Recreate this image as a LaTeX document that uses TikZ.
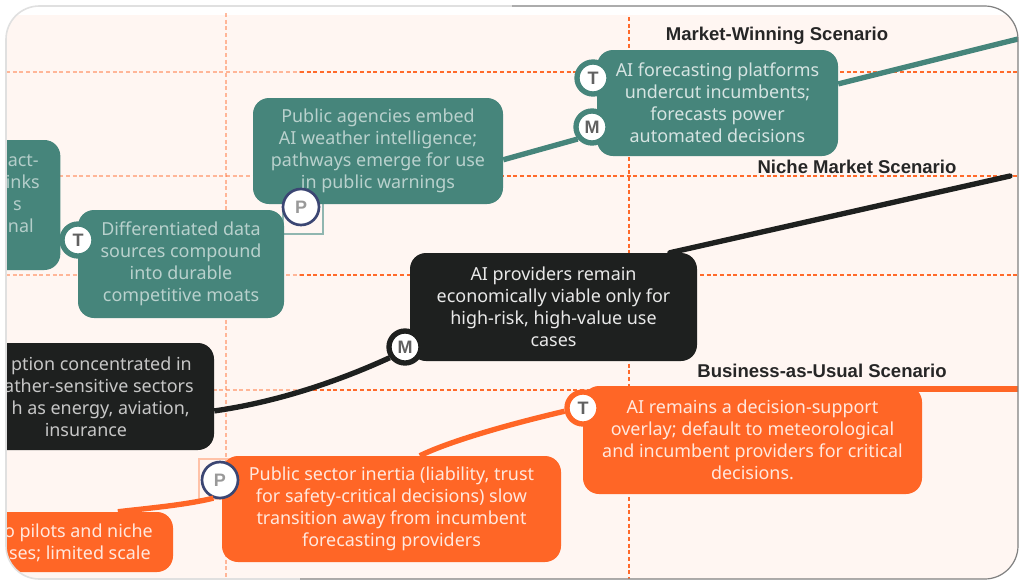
\documentclass[tikz,border=0pt]{standalone}
\usepackage{fontspec}
\setmainfont{Noto Sans}
\newfontfamily\headfont{Liberation Sans}
\definecolor{panelbg}{HTML}{FFF6F2}
\definecolor{gridc}{HTML}{FF6A2B}
\definecolor{tealc}{HTML}{46857B}
\definecolor{blackc}{HTML}{1E201F}
\definecolor{orangec}{HTML}{FF6626}
\definecolor{navyc}{HTML}{3B4673}
\tikzset{
  x=0.75pt,y=-0.75pt,
  box/.style={rounded corners=12pt,inner sep=0pt,align=center,font=\fontsize{13.45}{16.5}\selectfont},
  tealbox/.style={box,fill=tealc,text=white!78!tealc},
  tealfaint/.style={box,fill=tealc,text=white!62!tealc},
  blackbox/.style={box,fill=blackc,text=white!90!blackc},
  blackfaint/.style={box,fill=blackc,text=white!75!blackc},
  orangebox/.style={box,fill=orangec,text=white!85!orangec},
  frag/.style={inner sep=0pt,anchor=east,align=right,font=\fontsize{13.45}{16.5}\selectfont},
  badge/.style={circle,fill=white,inner sep=0pt,minimum size=24pt,line width=4pt,text=black!62,font=\headfont\bfseries\fontsize{13.5}{13.5}\selectfont},
  pbadge/.style={badge,line width=2pt,minimum size=27pt,draw=navyc,text=black!40},
  scen/.style={inner sep=0pt,text=black!85,font=\headfont\bfseries\fontsize{13.9}{15}\selectfont},
  griddash/.style={gridc,line width=1pt,dash pattern=on 3pt off 2pt},
  gridfaint/.style={griddash,draw opacity=.45},
  link/.style={line cap=round,line width=4pt},
  selbox/.style={draw,line width=.9pt,minimum size=30pt,inner sep=0pt}
}
\newcommand{\trail}[1]{\rule{#1pt}{0pt}}
\begin{document}
\begin{tikzpicture}
\useasboundingbox (0,0) rectangle (1024,586);
\fill[white] (0,0) rectangle (1024,586);
\begin{scope}
\clip[rounded corners=25pt] (6,6) rectangle (1018,579);
\fill[white] (6,6) rectangle (1018,579);
\fill[panelbg] (6,15) rectangle (1018,579);
% grid
\draw[gridfaint] (6,72) -- (300,72);
\draw[griddash] (300,72) -- (1018,72);
\draw[gridfaint] (6,176) -- (300,176);
\draw[griddash] (300,176) -- (1018,176);
\draw[gridfaint] (6,275) -- (300,275);
\draw[griddash] (300,275) -- (1018,275);
\draw[gridfaint] (6,390) -- (300,390);
\draw[griddash] (300,390) -- (1018,390);
\draw[gridfaint] (226,13) -- (226,579);
\draw[griddash] (629,17) -- (629,579);
% selection frames
\node[selbox,draw=tealc!60] (selT) at (303,214) {};
\node[selbox,draw=orangec!40] (selO) at (219,479) {};
% boxes
\node[tealfaint,minimum width=110pt,minimum height=97.5pt] (nThree) at (-13,205) {};
\node[frag,text=white!60!tealc] (nThreeT) at (40,194) {act-\trail{.75}\\inks\\s\trail{13.5}\\nal\trail{4.5}};
\node[tealfaint,minimum width=154.5pt,minimum height=81pt] (nTwo) at (181,264) {Differentiated data\\sources compound\\into durable\\competitive moats};
\node[tealfaint,minimum width=187.5pt,minimum height=79.5pt] (nOne) at (378,151) {Public agencies embed\\AI weather intelligence;\\pathways emerge for use\\in public warnings};
\node[tealbox,minimum width=180.75pt,minimum height=79.5pt] (nFour) at (717.5,103) {AI forecasting platforms\\undercut incumbents;\\forecasts power\\automated decisions};
\node[blackbox,minimum width=215.25pt,minimum height=81pt] (bOne) at (553.5,307) {AI providers remain\\economically viable only for\\high-risk, high-value use\\cases};
\node[blackfaint,minimum width=205.5pt,minimum height=80.25pt] (bTwo) at (77,396.5) {};
\node[frag,text=white!75!blackc] (bTwoT) at (194,397) {ption concentrated in\trail{1.5}\\ather-sensitive sectors\\h as energy, aviation,\trail{3}\\insurance\trail{50}};
\node[orangebox,minimum width=254.25pt,minimum height=79.5pt] (oOne) at (391.5,509) {Public sector inertia (liability, trust\\for safety-critical decisions) slow\\transition away from incumbent\\forecasting providers};
\node[orangebox,minimum width=254.25pt,minimum height=81pt] (oThree) at (752.5,440) {AI remains a decision-support\\overlay; default to meteorological\\and incumbent providers for critical\\decisions.};
\node[orangebox,minimum width=150pt,minimum height=45pt] (oTwo) at (73,542) {};
\node[frag,text=white!85!orangec] (oTwoT) at (153,542.5) {o pilots and niche\\ses; limited scale\trail{1.5}};
% badges
\node[badge,draw=tealc] (tTwo) at (78,240) {T};
\node[badge,draw=tealc] (tFour) at (593,78) {T};
\node[badge,draw=tealc] (mFour) at (592,127) {M};
\node[pbadge] (pOne) at (301,207) {P};
\node[badge,draw=blackc] (mOne) at (405,347) {M};
\node[pbadge] (pTwo) at (220,480) {P};
\node[badge,draw=orangec] (tThree) at (583,408) {T};
% free ends
\coordinate (endTeal) at (1030,36);
\coordinate (endBlack) at (1010,176);
\coordinate (endOrange) at (1030,389);
% connectors
\draw[link,tealc,line cap=butt] (nFour.9.4) -- (endTeal);
\draw[link,tealc,line cap=butt] (nOne.-4.6) -- (mFour.-140);
\draw[link,blackc] (bOne.25.8) -- (endBlack);
\draw[link,blackc,line cap=butt] (bTwo.-6.9) .. controls (270,403) and (330,385) .. (mOne.-145);
\draw[link,orangec,line cap=butt] (oTwo.34) .. controls (150,508) and (185,505) .. (pTwo.-110);
\draw[link,orangec,line cap=butt] (oOne.62) .. controls (450,441) and (510,424) .. (tThree.-170);
\draw[orangec,line width=4.5pt] (oThree.center |- endOrange) -- (endOrange);
\end{scope}
% labels
\node[scen] (sWin) at (777,35.5) {Market-Winning Scenario};
\node[scen] (sNiche) at (857,167) {Niche Market Scenario};
\node[scen] (sBau) at (822,370.5) {Business-as-Usual Scenario};
% frame
\draw[black!12,line width=1.2pt,rounded corners=25pt] (512,6) -- (6,6) -- (6,579) -- (300,579);
\draw[black!50,line width=.9pt,rounded corners=25pt] (512,6) -- (1018,6) -- (1018,579) -- (300,579);
\end{tikzpicture}
\end{document}
